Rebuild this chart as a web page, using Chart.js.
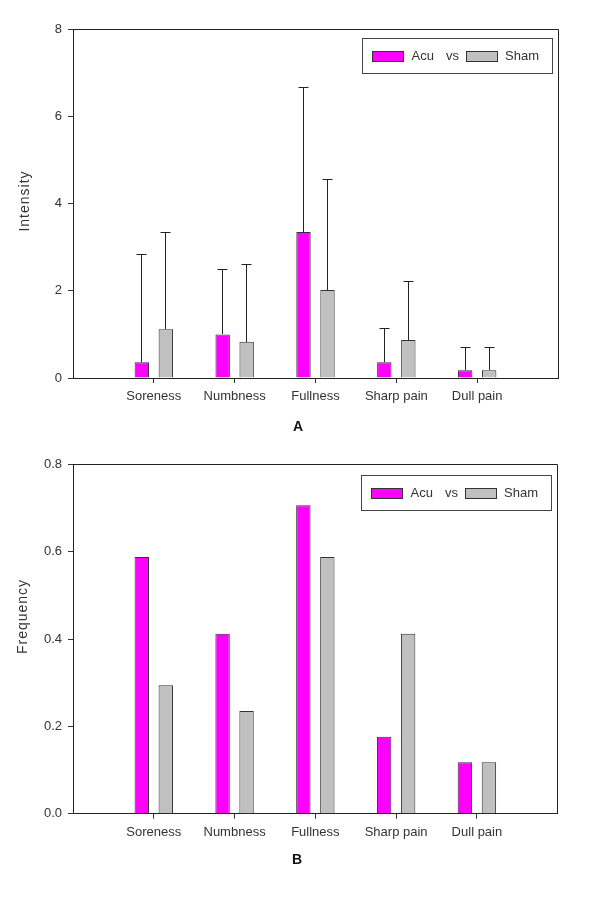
<!DOCTYPE html>
<html><head><meta charset="utf-8">
<script src="https://cdn.jsdelivr.net/npm/chart.js@4/dist/chart.umd.min.js"></script>
<style>
html,body{margin:0;padding:0;background:#fff;}
#wrap{position:relative;width:600px;height:904px;background:#fff;}
.box{position:absolute;left:0;width:600px;}
canvas{display:block;}
</style></head><body>
<div id="wrap">
<div class="box" style="top:0;height:440px"><canvas id="cA" width="600" height="440"></canvas></div>
<div class="box" style="top:440px;height:464px"><canvas id="cB" width="600" height="464"></canvas></div>
</div>
<script>
// ---- data ----
const categories = ['Soreness', 'Numbness', 'Fullness', 'Sharp pain', 'Dull pain'];
const seriesNames = ['Acu', 'Sham'];
const intensityAcu = [0.36, 1.00, 3.35, 0.36, 0.18];
const intensityAcuSD = [2.48, 1.49, 3.32, 0.78, 0.52];
const intensitySham = [1.12, 0.83, 2.02, 0.87, 0.18];
const intensityShamSD = [2.23, 1.78, 2.53, 1.34, 0.52];
const frequencyAcu = [0.588, 0.412, 0.706, 0.176, 0.118];
const frequencySham = [0.294, 0.235, 0.588, 0.412, 0.118];
const intensityTicks = [0, 2, 4, 6, 8];
const frequencyTicks = [0, 0.2, 0.4, 0.6, 0.8];
const panelLabels = ['A', 'B'];
const yTitles = ['Intensity', 'Frequency'];

const ACU_COLOR = '#ff00ff';
const SHAM_COLOR = '#c0c0c0';
const INK = '#333333';

Chart.defaults.font.family = '"Liberation Sans", Arial, sans-serif';
Chart.defaults.color = INK;

const pad = arr => [null, ...arr, null];
const labels = pad(categories).map(v => v === null ? '' : v);

function align(v) { return Math.round(v - 0.5) + 0.5; }

const decorPlugin = {
  id: 'decor',
  afterDatasetsDraw(chart) {
    const ctx = chart.ctx;
    const ys = chart.scales.y;
    ctx.save();
    ctx.strokeStyle = '#222';
    ctx.lineWidth = 1;
    chart.data.datasets.forEach((ds, i) => {
      if (!ds.sd) return;
      const meta = chart.getDatasetMeta(i);
      meta.data.forEach((el, j) => {
        const v = ds.data[j], s = ds.sd[j];
        if (v == null || s == null) return;
        const x = align(el.x);
        const yTop = Math.round(el.y);
        const yErr = align(ys.getPixelForValue(v + s));
        ctx.beginPath();
        ctx.moveTo(x, yTop);
        ctx.lineTo(x, yErr);
        ctx.moveTo(x - 5, yErr);
        ctx.lineTo(x + 5, yErr);
        ctx.stroke();
      });
    });
    ctx.restore();
  },
  afterDraw(chart, args, opts) {
    const ctx = chart.ctx;
    const a = chart.chartArea;
    ctx.save();
    // frame top & right
    ctx.strokeStyle = '#222';
    ctx.lineWidth = 1;
    const t = align(a.top), r = align(a.right), b = align(a.bottom);
    ctx.beginPath();
    ctx.moveTo(align(a.left), t);
    ctx.lineTo(r, t);
    ctx.lineTo(r, b);
    ctx.stroke();

    // legend
    const bl = opts.legendLeft, bt = opts.legendTop;
    ctx.strokeStyle = '#444';
    ctx.strokeRect(Math.round(bl) + 0.5, Math.round(bt) + 0.5, 190, 35);
    const sy = Math.round(bt + 13) + 0.5;
    ctx.fillStyle = ACU_COLOR;
    ctx.fillRect(Math.round(bl + 10) + 0.5, sy, 31, 10);
    ctx.strokeStyle = '#333';
    ctx.strokeRect(Math.round(bl + 10) + 0.5, sy, 31, 10);
    ctx.fillStyle = SHAM_COLOR;
    ctx.fillRect(Math.round(bl + 104) + 0.5, sy, 31, 10);
    ctx.strokeRect(Math.round(bl + 104) + 0.5, sy, 31, 10);
    ctx.fillStyle = INK;
    ctx.font = '13px "Liberation Sans", Arial, sans-serif';
    ctx.textBaseline = 'middle';
    ctx.textAlign = 'left';
    const ty = bt + 18.5;
    ctx.fillText(seriesNames[0], bl + 49.5, ty);
    ctx.fillText('vs', bl + 84, ty);
    ctx.fillText(seriesNames[1], bl + 143, ty);

    // y title
    ctx.save();
    ctx.translate(opts.yTitleX, opts.yTitleY);
    ctx.rotate(-Math.PI / 2);
    ctx.font = '14px "Liberation Sans", Arial, sans-serif';
    try { ctx.letterSpacing = '1px'; } catch (e) {}
    ctx.textAlign = 'center';
    ctx.textBaseline = 'middle';
    ctx.fillText(opts.yTitle, 0, 0);
    ctx.restore();

    // panel label
    ctx.font = 'bold 14px "Liberation Sans", Arial, sans-serif';
    ctx.textAlign = 'center';
    ctx.textBaseline = 'middle';
    ctx.fillStyle = '#111';
    ctx.fillText(opts.panel, opts.panelX, opts.panelY);
    ctx.restore();
  }
};

function makeChart(id, cfg) {
  const datasets = [
    { label: seriesNames[0], data: pad(cfg.acu), sd: cfg.acuSD ? pad(cfg.acuSD) : null,
      backgroundColor: ACU_COLOR, borderColor: '#333', borderWidth: 1,
      categoryPercentage: 0.594, barPercentage: 0.6 },
    { label: seriesNames[1], data: pad(cfg.sham), sd: cfg.shamSD ? pad(cfg.shamSD) : null,
      backgroundColor: SHAM_COLOR, borderColor: '#333', borderWidth: 1,
      categoryPercentage: 0.594, barPercentage: 0.6 }
  ];
  return new Chart(document.getElementById(id), {
    type: 'bar',
    data: { labels: labels, datasets: datasets },
    plugins: [decorPlugin],
    options: {
      responsive: false,
      animation: false,
      devicePixelRatio: 1,
      layout: { padding: { top: cfg.padTop, right: cfg.padRight, left: 0, bottom: 0 } },
      plugins: {
        legend: { display: false },
        tooltip: { enabled: false },
        decor: cfg.decor
      },
      scales: {
        x: {
          type: 'category',
          offset: false,
          afterFit: s => { s.height = cfg.xHeight; },
          grid: {
            offset: false, drawOnChartArea: false, drawTicks: true, tickLength: 5,
            color: c => (c.index === 0 || c.index === labels.length - 1) ? 'rgba(0,0,0,0)' : '#333'
          },
          border: { display: true, color: '#222', width: 1 },
          ticks: { autoSkip: false, maxRotation: 0, minRotation: 0, padding: 6, color: INK, font: { size: 13 } }
        },
        y: {
          min: cfg.ticks[0],
          max: cfg.ticks[cfg.ticks.length - 1],
          afterBuildTicks: s => { s.ticks = cfg.ticks.map(v => ({ value: v })); },
          afterFit: s => { s.width = 73; },
          grid: { drawOnChartArea: false, drawTicks: true, tickLength: 5, color: '#333' },
          border: { display: true, color: '#222', width: 1 },
          ticks: { padding: 6, color: INK, font: { size: 13 }, callback: cfg.fmt }
        }
      }
    }
  });
}

makeChart('cA', {
  acu: intensityAcu, acuSD: intensityAcuSD, sham: intensitySham, shamSD: intensityShamSD,
  ticks: intensityTicks, fmt: v => String(v),
  padTop: 29.5, padRight: 42, xHeight: 62,
  decor: { legendLeft: 362, legendTop: 37.5, yTitle: yTitles[0], yTitleX: 25, yTitleY: 201,
           panel: panelLabels[0], panelX: 298, panelY: 427 }
});

makeChart('cB', {
  acu: frequencyAcu, sham: frequencySham,
  ticks: frequencyTicks, fmt: v => Number(v).toFixed(1),
  padTop: 24.3, padRight: 42.3, xHeight: 90.3,
  decor: { legendLeft: 361, legendTop: 34.5, yTitle: yTitles[1], yTitleX: 23, yTitleY: 176.5,
           panel: panelLabels[1], panelX: 297, panelY: 420 }
});
</script>
</body></html>
